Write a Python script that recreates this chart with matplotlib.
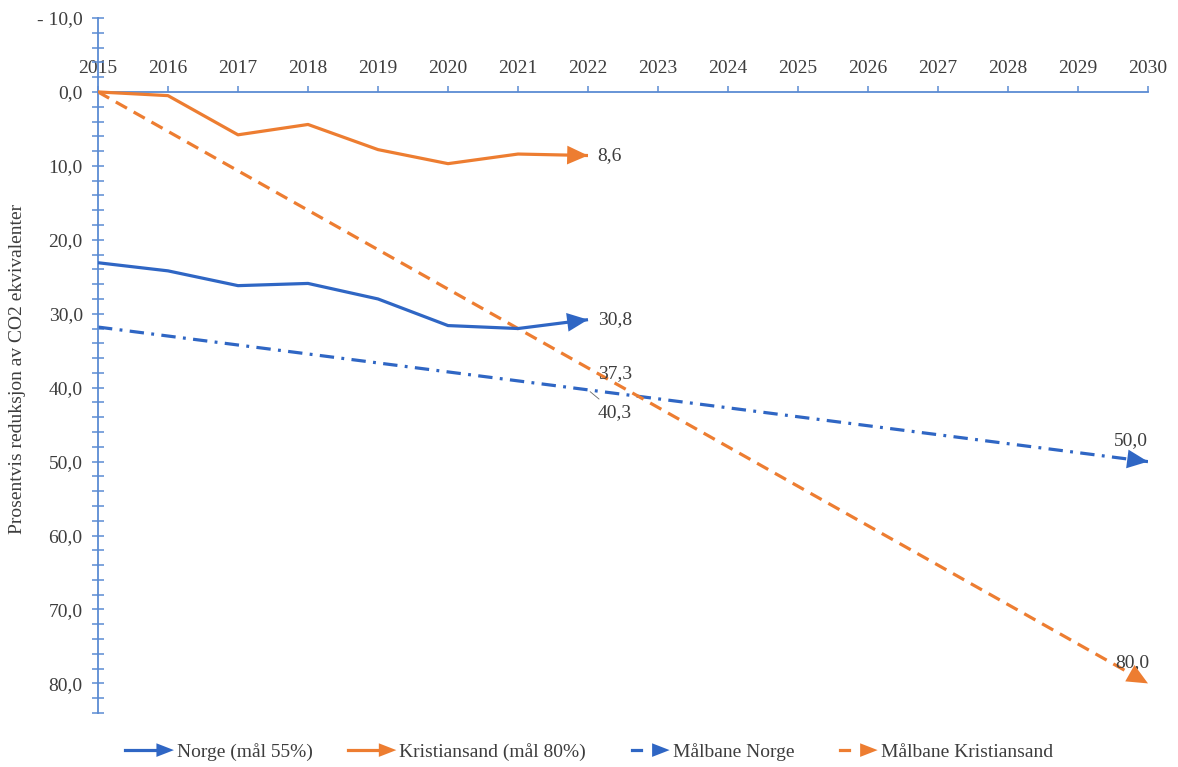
import matplotlib
matplotlib.use('Agg')
import matplotlib.pyplot as plt
from matplotlib.legend_handler import HandlerBase
from matplotlib.lines import Line2D
from matplotlib.patches import Polygon
from matplotlib.ticker import MultipleLocator

# data
years = [2015, 2016, 2017, 2018, 2019, 2020, 2021, 2022]
norge = [23.1, 24.2, 26.2, 25.9, 28.0, 31.6, 32.0, 30.8]
kristiansand = [0.0, 0.5, 5.8, 4.4, 7.8, 9.7, 8.4, 8.6]
maal_years = [2015, 2030]
maal_norge = [31.8, 50.0]
maal_krs = [0.0, 80.0]
x_ticks = list(range(2015, 2031))
y_ticks = [-10, 0, 10, 20, 30, 40, 50, 60, 70, 80]
y_tick_labels = ['- 10,0', '0,0', '10,0', '20,0', '30,0', '40,0', '50,0', '60,0', '70,0', '80,0']
krs_2022_goal = 37.3
norge_2022_goal = 40.3

blue = '#2f66c4'
orange = '#ed7d31'
axis_col = '#5b8bd3'
txt_col = '#3d3d3d'
fs = 14

plt.rcParams['font.family'] = ['Liberation Serif', 'DejaVu Serif']

fig = plt.figure(figsize=(11.78, 7.67), dpi=100)
fig.patch.set_facecolor('white')
W, H = 1178, 767
ax = fig.add_axes([98 / W, 1 - 713 / H, (1148 - 98) / W, (713 - 18) / H])

ax.set_xlim(2015, 2030)
ax.set_ylim(84, -10)

lw = 2.3
ax.plot(years, norge, color=blue, lw=lw, solid_joinstyle='round', solid_capstyle='butt', zorder=3)
ax.plot(years, kristiansand, color=orange, lw=lw, solid_joinstyle='round', solid_capstyle='butt', zorder=3)
ax.plot(maal_years, maal_norge, color=blue, lw=lw, dashes=(4.5, 2.3, 0.9, 2.3),
        dash_capstyle='butt', zorder=2)
ax.plot(maal_years, maal_krs, color=orange, lw=lw, dashes=(4.0, 2.4), dash_capstyle='butt', zorder=2)


def arrow_head(xs, ys, col):
    # small arrow head at the end of a line, pointing along the last segment
    x1, y1 = xs[-1], ys[-1]
    x0 = x1 - 0.002 * (xs[-1] - xs[-2])
    y0 = y1 - 0.002 * (ys[-1] - ys[-2])
    ax.annotate('', xy=(x1, y1), xytext=(x0, y0),
                arrowprops=dict(arrowstyle='-|>,head_length=1.0,head_width=0.45',
                                mutation_scale=15, color=col, lw=0,
                                shrinkA=0, shrinkB=0),
                annotation_clip=False, zorder=4)


arrow_head(years, norge, blue)
arrow_head(years, kristiansand, orange)
arrow_head(maal_years, maal_norge, blue)
arrow_head(maal_years, maal_krs, orange)


def fmt(v):
    return ('%.1f' % v).replace('.', ',')


lab = dict(fontsize=fs, color=txt_col, textcoords='offset points', annotation_clip=False)
ax.annotate(fmt(kristiansand[-1]), (years[-1], kristiansand[-1]), xytext=(7, 0), va='center', ha='left', **lab)
ax.annotate(fmt(norge[-1]), (years[-1], norge[-1]), xytext=(7, 0), va='center', ha='left', **lab)
ax.annotate(fmt(krs_2022_goal), (2022, krs_2022_goal), xytext=(7, -4), va='center', ha='left', **lab)
ax.annotate(fmt(norge_2022_goal), (2022, norge_2022_goal), xytext=(7, -16), va='center', ha='left',
            arrowprops=dict(arrowstyle='-', color='#666666', lw=0.6, shrinkA=2, shrinkB=2), **lab)
ax.annotate(fmt(maal_norge[-1]), (maal_years[-1], maal_norge[-1]), xytext=(-12, 15), va='center', ha='center', **lab)
ax.annotate(fmt(maal_krs[-1]), (maal_years[-1], maal_krs[-1]), xytext=(-11, 15), va='center', ha='center', **lab)

# axes styling: y axis at 2015, x axis at 0 with labels on top
for s in ['right', 'bottom']:
    ax.spines[s].set_visible(False)
ax.spines['top'].set_position(('data', 0))
ax.spines['top'].set_color(axis_col)
ax.spines['top'].set_linewidth(1.3)
ax.spines['left'].set_color(axis_col)
ax.spines['left'].set_linewidth(1.3)
ax.xaxis.tick_top()
ax.set_xticks(x_ticks)
ax.set_xticklabels([str(y) for y in x_ticks])
ax.tick_params(axis='x', direction='out', length=4, width=1.1, color=axis_col,
               labelsize=fs, labelcolor=txt_col, pad=7)
ax.set_yticks(y_ticks)
ax.set_yticklabels(y_tick_labels)
ax.yaxis.set_minor_locator(MultipleLocator(2))
ax.tick_params(axis='y', which='both', direction='inout', length=8, width=1.1, color=axis_col,
               labelsize=fs, labelcolor=txt_col, pad=7)
ax.set_facecolor('none')

fig.text(18 / W, 1 - 369 / H, 'Prosentvis reduksjon av CO2 ekvivalenter', rotation=90,
         ha='center', va='center', fontsize=fs, color=txt_col)


class ArrowHandler(HandlerBase):
    def __init__(self, short=False):
        super().__init__()
        self.short = short

    def create_artists(self, legend, orig_handle, xdescent, ydescent, width, height, fontsize, trans):
        col = orig_handle.get_color()
        yc = height / 2 - ydescent
        hl = 0.36 * width
        hw = 0.5 * height
        tip = width - xdescent
        base = tip - hl
        if self.short:
            line = Line2D([base - 0.42 * width, base - 0.22 * width], [yc, yc], color=col, lw=2.3)
        else:
            line = Line2D([-xdescent, base + 1], [yc, yc], color=col, lw=2.3)
        head = Polygon([[base, yc - hw], [base, yc + hw], [tip, yc]], closed=True, color=col, lw=0)
        line.set_transform(trans)
        head.set_transform(trans)
        return [line, head]


h1 = Line2D([], [], color=blue)
h2 = Line2D([], [], color=orange)
h3 = Line2D([], [], color=blue)
h4 = Line2D([], [], color=orange)
fig.legend([h1, h2, h3, h4],
           ['Norge (mål 55%)', 'Kristiansand (mål 80%)', 'Målbane Norge', 'Målbane Kristiansand'],
           handler_map={h1: ArrowHandler(), h2: ArrowHandler(), h3: ArrowHandler(True), h4: ArrowHandler(True)},
           loc='center', bbox_to_anchor=(0.5, 1 - 752 / H), ncol=4, frameon=False,
           fontsize=fs, labelcolor=txt_col, handlelength=2.5, handletextpad=0.15,
           columnspacing=1.8)

fig.savefig('out.png', dpi=100, facecolor='white')
